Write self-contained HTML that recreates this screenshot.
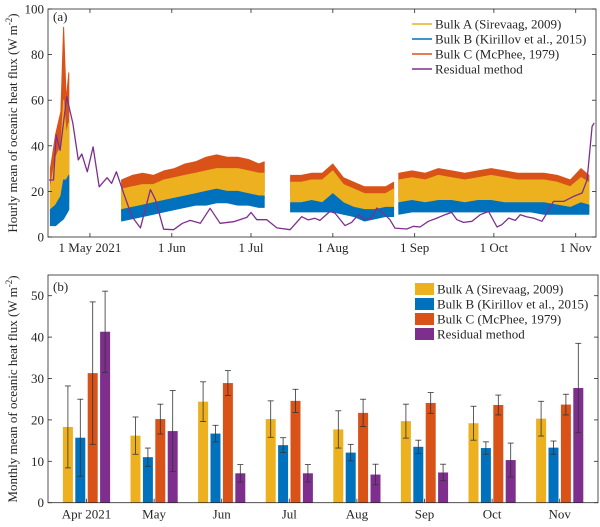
<!DOCTYPE html>
<html><head><meta charset="utf-8"><style>
html,body{margin:0;padding:0;background:#fff}
svg{display:block;font-family:"Liberation Serif",serif}
</style></head><body>
<svg id="c" width="600" height="527" viewBox="0 0 600 527"></svg>
<script>
// ---------- Panel (a) data ----------
const segDays=[[15,17,19,20,21,22],[42,46,50,54,58,62,66,70,74,78,82,86,90,94,96],[106,110,114,118,122,126,130,134,138,142,145],[147,152,157,162,167,172,177,182,187,192,197,202,207,212,216,219]];
const cLo=[[12,10,15,20,25,20],[14,15,17,18,19,20,21,22,22,23,23,22,21,20,20],[18,18,18,18,18,15,13,10,12,13,15],[17,17,18,18,17,18,18,17,18,17,17,16,16,14,15,16]];
const cHi=[[30,45,55,92,60,72],[25,27,28,27,29,30,32,33,35,36,35,35,34,32,33],[27,27,28,28,32,26,24,22,22,22,24],[28,29,28,30,29,28,29,30,29,28,28,28,27,25,30,27]];
const aLo=[[9,8,12,15,18,15],[11,12,13,14,15,16,17,17,18,18,18,18,17,17,17],[14,14,14,14,15,13,11,9,10,11,12],[13,14,14,14,14,14,14,14,14,14,14,13,13,12,12,13]];
const aHi=[[22,35,40,60,45,50],[21,22,23,23,25,26,27,28,29,30,30,30,29,28,28],[24,24,25,25,29,23,21,19,19,19,21],[25,26,25,27,26,25,26,27,26,25,25,25,24,22,26,24]];
const bLo=[[5,5,7,8,10,12],[7,8,9,10,11,12,13,14,14,15,15,14,14,13,13],[11,11,11,11,11,10,9,7,8,9,9],[10,11,11,11,11,11,11,11,11,11,11,10,10,10,10,10]];
const bHi=[[12,14,18,25,25,27],[12,13,14,15,16,17,18,19,20,21,20,20,19,18,18],[15,15,16,15,19,15,13,12,12,13,13],[15,16,15,16,16,15,16,16,15,15,15,15,14,13,15,14]];
const resDays=[14.5,16.2,17.2,18.7,21.2,23.5,25.6,26.9,29,31.2,33.5,36.5,38.2,40,42.8,45.9,49.1,52.9,54.8,57.9,61.7,65,68,71.8,75.5,79.3,84.4,89.4,91,93.2,97,100.8,105.8,110.2,112.7,115.2,117.1,120.9,122.8,126.6,129.1,131.7,134.2,136.7,138.6,141.1,143.6,145.5,150,152.5,155,158.2,161.4,164.5,167,169,171.5,174.7,177.8,181,184.2,186,188.6,191.1,193,195.5,198,201.2,203.1,205.6,209.4,213.2,216.4,218.3,220.2,221];
const resVals=[25,25,44.7,38,61.5,50,33.8,36.4,28.6,39.5,22,26,23.5,28.6,19,9,4,20.8,16.4,3.4,3.2,6,7.3,6,12.6,6,6.7,8.6,10.8,7.6,7.6,4,3.2,8.9,7.5,8.2,7.3,11.2,10.5,5,6.4,9.8,7.6,8.3,12.7,10.5,7.6,3.9,3.5,4.7,4.4,6.9,8.3,9.8,10.8,7.6,6.4,6.9,9.8,11.2,4.4,5.4,8.3,7.3,9.8,8.8,8.3,6.9,10.5,15.6,15.6,17.8,19.3,25.1,48.5,50];
const xTickDays=[30,61,91,122,153,183,214];
const xTickLabels=["1 May 2021","1 Jun","1 Jul","1 Aug","1 Sep","1 Oct","1 Nov"];
const yTicksA=[0,20,40,60,80,100];
// ---------- Panel (b) data ----------
const months=["Apr 2021","May","Jun","Jul","Aug","Sep","Oct","Nov"];
const bulkA=[18.3,16.2,24.4,20.2,17.7,19.7,19.2,20.3];
const bulkAErr=[9.9,4.5,4.8,4.4,4.5,4.1,4.1,4.2];
const bulkB=[15.7,11,16.7,13.9,12.1,13.5,13.2,13.3];
const bulkBErr=[9.3,2.2,2,1.8,2,1.6,1.5,1.6];
const bulkC=[31.3,20.2,28.9,24.6,21.7,24.1,23.6,23.7];
const bulkCErr=[17.2,3.6,3,2.8,3.3,2.5,2.4,2.5];
const resid=[41.3,17.3,7.1,7.1,6.8,7.3,10.3,27.7];
const residErr=[9.8,9.8,2.1,2.1,2.5,2,4.1,10.8];
const yTicksB=[0,10,20,30,40,50];

const COL={A:"#EDB120",B:"#0072BD",C:"#D95319",R:"#7E2F8E"};
const NS="http://www.w3.org/2000/svg";
const svg=document.getElementById('c');
function mk(tag,attrs,parent){const e=document.createElementNS(NS,tag);for(const k in attrs)e.setAttribute(k,attrs[k]);(parent||svg).appendChild(e);return e;}
function txt(s,x,y,attrs,parent){const t=mk('text',Object.assign({x:x,y:y,'font-size':13,fill:'#262626'},attrs||{}),parent);t.textContent=s;return t;}

// ---------- Panel (a) ----------
const L=48,R=596,TA=9,BA=237;
const xA=d=>251+(d-91)*2.64;
const yA=v=>BA-(v/100)*(BA-TA);
const gA=mk('g',{});


const clip=mk('clipPath',{id:'clipA'},gA);mk('rect',{x:L,y:TA,width:R-L,height:BA-TA},clip);
const plotA=mk('g',{'clip-path':'url(#clipA)'},gA);
function band(lo,hi,col,name){
  for(let s=0;s<segDays.length;s++){
    const ds=segDays[s];let pts=[];
    for(let i=0;i<ds.length;i++)pts.push(xA(ds[i]).toFixed(1)+','+yA(hi[s][i]).toFixed(1));
    for(let i=ds.length-1;i>=0;i--)pts.push(xA(ds[i]).toFixed(1)+','+yA(lo[s][i]).toFixed(1));
    const p=mk('polygon',{points:pts.join(' '),fill:col,stroke:col,'stroke-width':1,'stroke-linejoin':'round'},plotA);
    
    
  }
}
band(cLo,cHi,COL.C,'bulk-c-series');
band(aLo,aHi,COL.A,'bulk-a-series');
band(bLo,bHi,COL.B,'bulk-b-series');
let rp=resDays.map((d,i)=>xA(d).toFixed(1)+','+yA(resVals[i]).toFixed(1)).join(' ');
const rl=mk('polyline',{points:rp,fill:'none',stroke:COL.R,'stroke-width':1.3,'stroke-linejoin':'round'},plotA);


mk('rect',{x:L,y:TA,width:R-L,height:BA-TA,fill:'none',stroke:'#262626','stroke-width':0.8},gA);
yTicksA.forEach(v=>{const y=yA(v);mk('line',{x1:L,x2:L+4,y1:y,y2:y,stroke:'#262626','stroke-width':0.8},gA);mk('line',{x1:R,x2:R-4,y1:y,y2:y,stroke:'#262626','stroke-width':0.8},gA);
  const t=txt(String(v),L-4,y+4.5,{'text-anchor':'end'},gA);});
xTickDays.forEach((d,i)=>{const x=xA(d);mk('line',{x1:x,x2:x,y1:BA,y2:BA-4,stroke:'#262626','stroke-width':0.8},gA);mk('line',{x1:x,x2:x,y1:TA,y2:TA+4,stroke:'#262626','stroke-width':0.8},gA);
  const t=txt(xTickLabels[i],x,BA+15,{'text-anchor':'middle'},gA);});
let t=txt('(a)',53,21,{},gA);
t=mk('text',{x:0,y:0,'font-size':13,fill:'#262626','text-anchor':'middle',transform:'translate(17,123) rotate(-90)'},gA);
t.innerHTML='Hourly mean of oceanic heat flux (W m<tspan dy="-5" font-size="9">-2</tspan><tspan dy="5">)</tspan>';

const legA=[["Bulk A (Sirevaag, 2009)",COL.A],["Bulk B (Kirillov et al., 2015)",COL.B],["Bulk C (McPhee, 1979)",COL.C],["Residual method",COL.R]];
legA.forEach((e,i)=>{const y=24+i*15;const g=mk('g',{},gA);
  mk('line',{x1:412,x2:432,y1:y,y2:y,stroke:e[1],'stroke-width':1.5},g);txt(e[0],435,y+4.5,{},g);});

// ---------- Panel (b) ----------
const TB=275,BB=502.7;
const yB=v=>BB-(v/55)*(BB-TB);
const gB=mk('g',{});


const x0=86.5,step=67.6,bw=10,pitch=12.4;
const series=[[bulkA,bulkAErr,COL.A,'bulk-a'],[bulkB,bulkBErr,COL.B,'bulk-b'],[bulkC,bulkCErr,COL.C,'bulk-c'],[resid,residErr,COL.R,'residual']];
months.forEach((m,i)=>{
  const cx=x0+i*step;
  series.forEach((s,j)=>{
    const bx=cx+(j-1.5)*pitch;const v=s[0][i],e=s[1][i];
    const r=mk('rect',{x:bx-bw/2,y:yB(v),width:bw,height:BB-yB(v),fill:s[2]},gB);
    
    
    const eg=mk('g',{stroke:'#333','stroke-width':0.8},gB);
    
    
    mk('line',{x1:bx,x2:bx,y1:yB(v+e),y2:yB(Math.max(0,v-e))},eg);
    mk('line',{x1:bx-3,x2:bx+3,y1:yB(v+e),y2:yB(v+e)},eg);
    mk('line',{x1:bx-3,x2:bx+3,y1:yB(v-e),y2:yB(v-e)},eg);
  });
  const tl=txt(m,cx,BB+16,{'text-anchor':'middle'},gB);
  mk('line',{x1:cx,x2:cx,y1:BB,y2:BB-4,stroke:'#262626','stroke-width':0.8},gB);
});
mk('rect',{x:L,y:TB,width:598-L,height:BB-TB,fill:'none',stroke:'#262626','stroke-width':0.8},gB);
yTicksB.forEach(v=>{const y=yB(v);mk('line',{x1:L,x2:L+4,y1:y,y2:y,stroke:'#262626','stroke-width':0.8},gB);mk('line',{x1:598,x2:594,y1:y,y2:y,stroke:'#262626','stroke-width':0.8},gB);
  const t=txt(String(v),L-4,y+4.5,{'text-anchor':'end'},gB);});
t=txt('(b)',53,291,{},gB);
t=mk('text',{x:0,y:0,'font-size':13,fill:'#262626','text-anchor':'middle',transform:'translate(17,389) rotate(-90)'},gB);
t.innerHTML='Monthly mean of oceanic heat flux (W m<tspan dy="-5" font-size="9">-2</tspan><tspan dy="5">)</tspan>';

legA.forEach((e,i)=>{const y=289+i*15;const g=mk('g',{},gB);
  mk('rect',{x:415,y:y-6,width:19,height:12,fill:e[1]},g);txt(e[0],437,y+4.5,{},g);});
</script>
</body></html>
